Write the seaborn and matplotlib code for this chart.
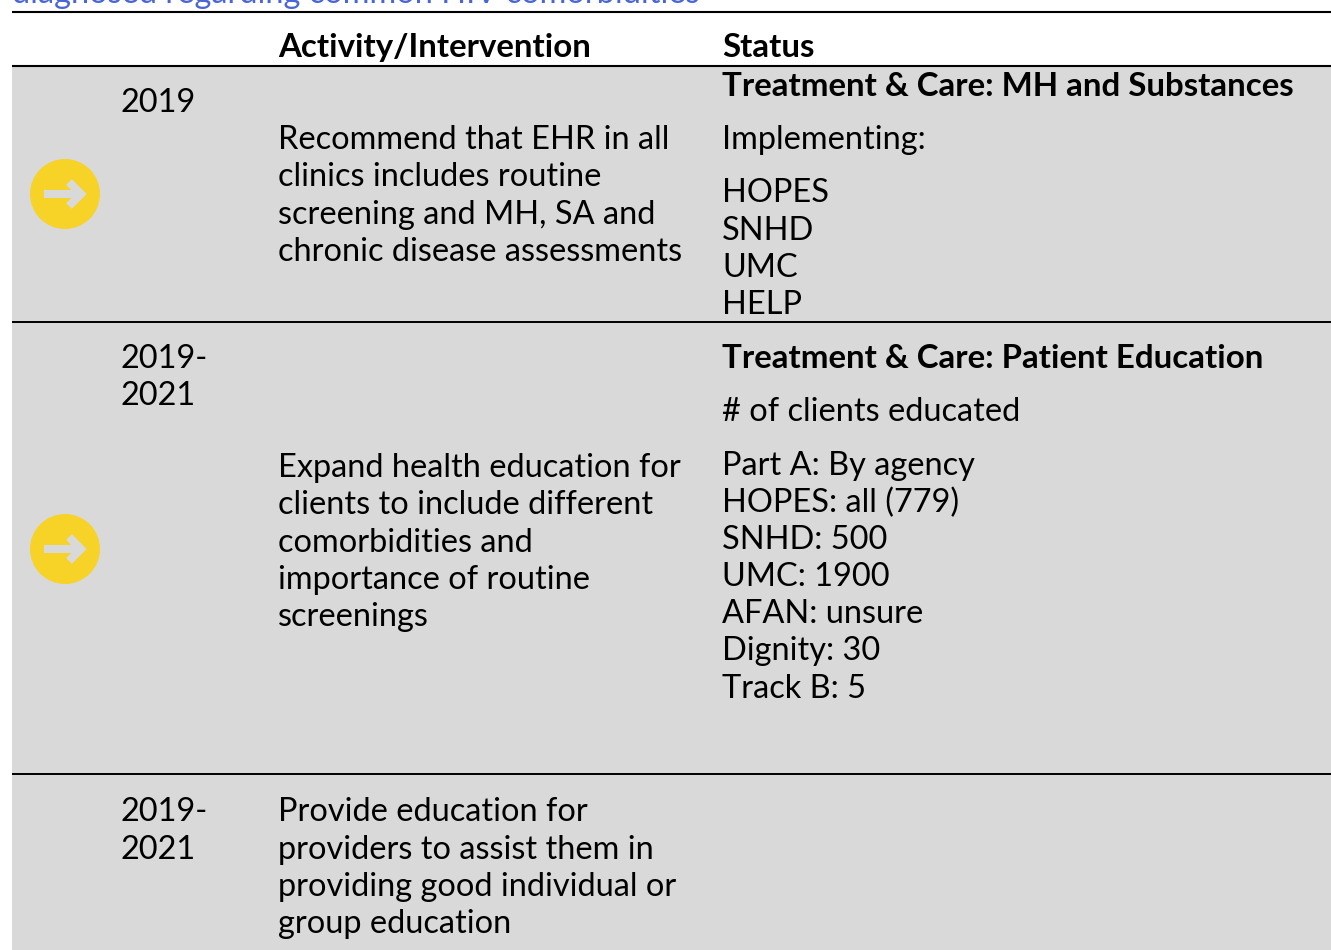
import matplotlib
matplotlib.use("Agg")
import matplotlib.pyplot as plt
from matplotlib.patches import Rectangle, Circle
import seaborn as sns

sns.set_theme(style="white")
plt.rcParams['font.family'] = ['Lato', 'DejaVu Sans']

title_line = "diagnosed regarding common HIV comorbidities"
headers = ["Activity/Intervention", "Status"]
years = ["2019", "2019-", "2021", "2019-", "2021"]
activity = ["Recommend that EHR in all", "clinics includes routine", "screening and MH, SA and",
            "chronic disease assessments",
            "Expand health education for", "clients to include different", "comorbidities and",
            "importance of routine", "screenings",
            "Provide education for", "providers to assist them in", "providing good individual or",
            "group education"]
status_bold = ["Treatment & Care: MH and Substances", "Treatment & Care: Patient Education"]
status = ["Implementing:", "HOPES", "SNHD", "UMC", "HELP",
          "# of clients educated", "Part A: By agency", "HOPES: all (779)", "SNHD: 500",
          "UMC: 1900", "AFAN: unsure", "Dignity: 30", "Track B: 5"]

W, H = 1331, 950
fig = plt.figure(figsize=(W / 100, H / 100), dpi=100)
ax = fig.add_axes([0, 0, 1, 1])
ax.set_xlim(0, W)
ax.set_ylim(H, 0)
ax.axis("off")

ax.add_patch(Rectangle((12, 66), W - 12, H - 66, color="#d9d9d9", lw=0, zorder=0))
for y, lw in [(11.5, 1.5), (66, 1.5), (322, 1.4), (774, 1.4)]:
    ax.plot([12, W], [y, y], color="black", lw=lw, zorder=2, solid_capstyle="butt")

for cy in [194, 549]:
    ax.add_patch(Circle((65, cy), 35, color="#f6d326", lw=0, zorder=3))
    ax.plot([44, 79], [cy, cy], color="#d9d9d9", lw=5.8, zorder=4, solid_capstyle="butt")
    ax.plot([69, 81, 69], [cy - 12, cy, cy + 12], color="#d9d9d9", lw=5.8, zorder=4,
            solid_joinstyle="miter", solid_capstyle="butt")

FS = 23.4
FS_BOLD = 23.8
def put(x, y, s, bold=False, color="black"):
    ax.text(x, y, s, fontsize=FS_BOLD if bold else FS, color=color, va="baseline", ha="left",
            fontweight="bold" if bold else "normal", zorder=5)

put(12, 3, title_line, color="#4a66d6")
put(278, 57, headers[0], bold=True)
put(722, 57, headers[1], bold=True)

for s, y in zip(years, [112, 368, 405, 821, 859]):
    put(121, y, s)
for s, y in zip(activity, [149, 186, 224, 261, 477, 514, 552, 589, 626, 821, 859, 896, 933]):
    put(278, y, s)
for s, y in zip(status_bold, [96, 368]):
    put(722, y, s, bold=True)
for s, y in zip(status, [149, 202, 240, 277, 314, 421, 475, 512, 549, 586, 623, 660, 698]):
    put(722, y, s)

fig.savefig("out.png", dpi=100, facecolor="white")
